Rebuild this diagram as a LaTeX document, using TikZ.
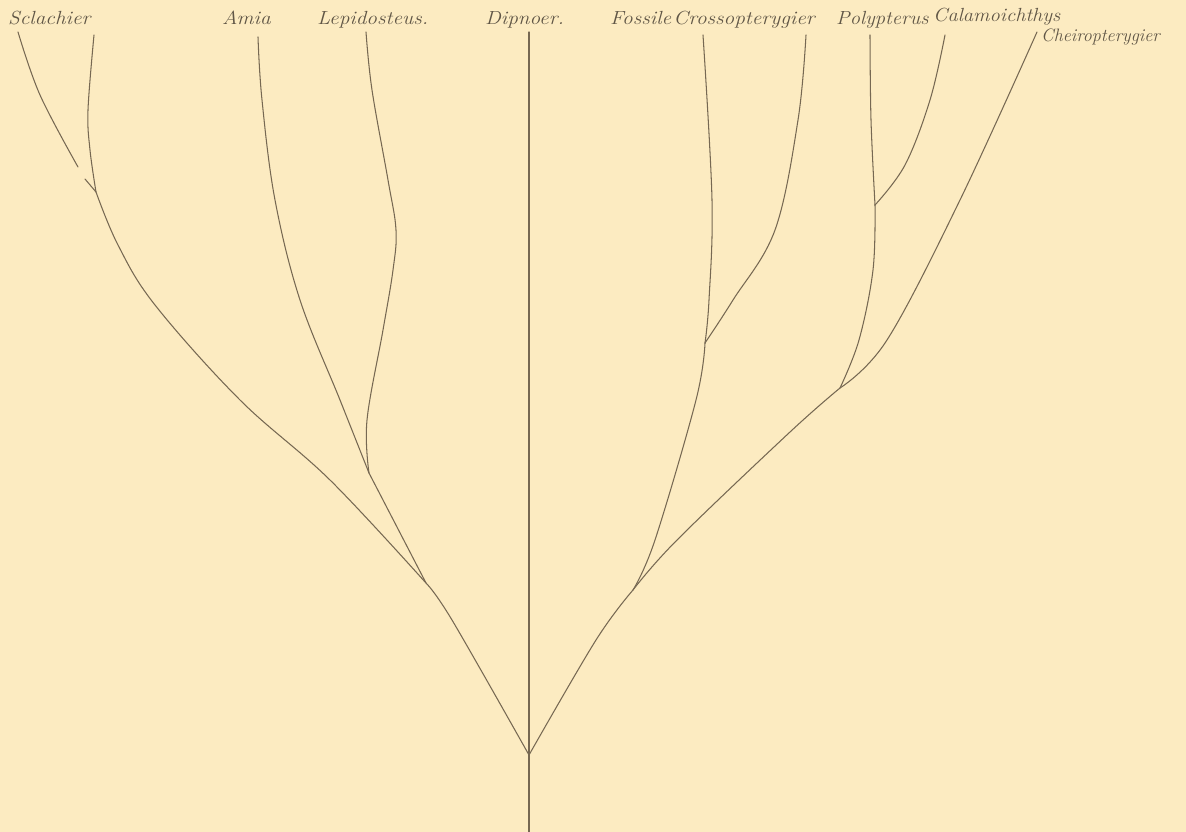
\documentclass[tikz,border=0pt]{standalone}
\usepackage{graphicx}
\usepackage{xcolor}
\definecolor{paper}{RGB}{252,235,193}
\definecolor{ink}{RGB}{118,104,82}
\definecolor{labink}{RGB}{96,86,70}
\newcommand{\wide}[1]{\scalebox{1.12}[1]{#1}}
\begin{document}
\begin{tikzpicture}[x=1pt,y=-1pt,
  branch/.style={draw=ink,line width=1.05pt,line cap=round},
  lab/.style={anchor=base west,inner sep=0pt,text=labink,font=\fontsize{19}{22}\selectfont\itshape}]
\fill[paper] (0,0) rectangle (1186,832);
\useasboundingbox (0,0) rectangle (1186,832);
% junctions
\coordinate (root) at (529,755);
\coordinate (base) at (529,832);
\coordinate (nA) at (426,583);
\coordinate (nL) at (369,473);
\coordinate (nS) at (96,192);
\coordinate (nF) at (633,590);
\coordinate (nC) at (705,343);
\coordinate (nP) at (840,388);
\coordinate (nK) at (875,205);
% leaf tops
\coordinate (tSa) at (18,32);
\coordinate (tSb) at (94,35);
\coordinate (tAm) at (258,37);
\coordinate (tLe) at (366,32);
\coordinate (tDi) at (529,32);
\coordinate (tCr) at (703,35);
\coordinate (tFo) at (806,35);
\coordinate (tPo) at (870,35);
\coordinate (tCa) at (945,35);
\coordinate (tCh) at (1037,32);
% labels
\node[lab] (lSc) at (8,25) {\wide{Sclachier}};
\node[lab] (lAm) at (222,25) {\wide{Amia}};
\node[lab] (lLe) at (317,25) {\wide{Lepidosteus.}};
\node[lab] (lDi) at (485,25) {\wide{Dipnoer.}};
\node[lab] (lCr) at (610,25) {\wide{Fossile\hspace{2pt}Crossopterygier}};
\node[lab] (lPo) at (836,25) {\scalebox{1.08}[1]{Polypterus}};
\node[lab] (lCa) at (933,22) {\scalebox{1.08}[1]{Calamoichthys}};
\node[lab,font=\fontsize{18}{21}\selectfont\itshape] (lCh) at (1041,42) {Cheiropterygier};
% stem and Dipnoer
\draw[branch] (root) -- (base);
\draw[branch] (root) -- (tDi);
% left side
\draw[branch] plot[smooth,tension=0.6] coordinates {(root) (452,620) (nA)};
\draw[branch] plot[smooth,tension=0.6] coordinates {(nA) (330,480) (240,400) (155,305) (118,245) (nS)};
\draw[branch] plot[smooth,tension=0.6] coordinates {(nS) (90,150) (88,110) (tSb)};
\draw[branch] plot[smooth,tension=0.6] coordinates {(tSa) (40,95) (78,167)};
\draw[branch] (85,179) -- (nS);
\draw[branch] (nA) -- (nL);
\draw[branch] plot[smooth,tension=0.6] coordinates {(nL) (340,400) (300,300) (275,200) (262,100) (tAm)};
\draw[branch] plot[smooth,tension=0.6] coordinates {(nL) (367,420) (383,330) (393,270) (396,230) (388,180) (372,90) (tLe)};
% right side
\draw[branch] plot[smooth,tension=0.6] coordinates {(root) (596,640) (nF)};
\draw[branch] plot[smooth,tension=0.6] coordinates {(nF) (655,540) (696,400) (nC)};
\draw[branch] plot[smooth,tension=0.6] coordinates {(nC) (709,300) (712,200) (tCr)};
\draw[branch] plot[smooth,tension=0.6] coordinates {(nC) (733,300) (775,230) (798,120) (tFo)};
\draw[branch] plot[smooth,tension=0.6] coordinates {(nF) (677,540) (790,432) (nP)};
\draw[branch] plot[smooth,tension=0.6] coordinates {(nP) (859,340) (873,270) (nK)};
\draw[branch] plot[smooth,tension=0.6] coordinates {(nK) (871,120) (tPo)};
\draw[branch] plot[smooth,tension=0.6] coordinates {(nK) (905,165) (930,100) (tCa)};
\draw[branch] plot[smooth,tension=0.6] coordinates {(nP) (887,340) (960,200) (tCh)};
\end{tikzpicture}
\end{document}
